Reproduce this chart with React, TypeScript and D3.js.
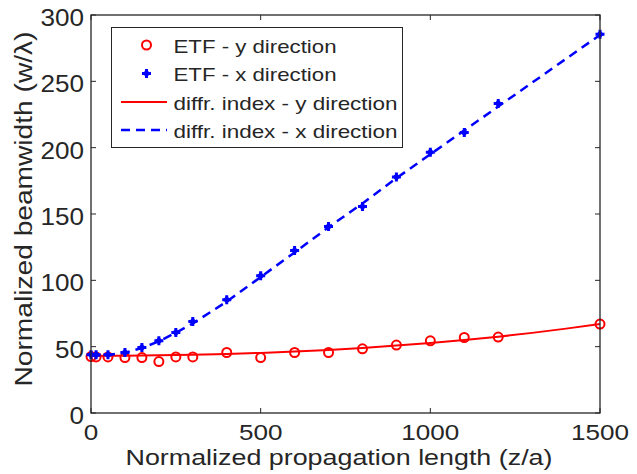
import React, { useEffect, useRef } from 'react';
import * as d3 from 'd3';

// ETF measurements
const etfZ = [0, 15, 50, 100, 150, 200, 250, 300, 400, 500, 600, 700, 800, 900, 1000, 1100, 1200, 1500];
const etfY = [42.5, 42.3, 42.3, 41.8, 41.8, 38.8, 42.3, 42.3, 45.6, 41.8, 45.6, 45.6, 48.4, 51.2, 54.4, 56.9, 57.2, 67.0];
const etfX = [44, 44, 44, 45.6, 49.4, 54.4, 60.7, 69, 85.4, 103.5, 122.4, 140.6, 155.7, 177.9, 196.5, 211.4, 233.3, 285.5];

// diffraction index curves
const diffZ = [0, 50, 100, 150, 200, 250, 300, 400, 500, 600, 700, 800, 900, 1000, 1100, 1200, 1300, 1400, 1500];
const diffY = [43, 43.1, 43.2, 43.3, 43.5, 43.7, 43.9, 44.5, 45.3, 46.3, 47.5, 49, 50.8, 52.8, 55, 57.5, 60.4, 63.6, 67];
const diffX = [43.5, 43.7, 45.5, 49, 54, 60.5, 67.5, 84, 102.5, 121, 140, 158, 177, 195, 213, 231, 249, 267, 285];

const xTicks = [0, 500, 1000, 1500];
const yTicks = [0, 50, 100, 150, 200, 250, 300];

const legendItems = ['ETF - y direction', 'ETF - x direction', 'diffr. index - y direction', 'diffr. index - x direction'];
const legendWidths = [163, 163, 224, 224];

const App = () => {
    const svgRef = useRef(null);

    useEffect(() => {
        const width = 637;
        const height = 474;
        const margin = { top: 15, right: 37, bottom: 61, left: 91 };
        const svg = d3.select(svgRef.current);
        svg.selectAll('*').remove();
        svg.attr('width', width).attr('height', height);

        const x = d3.scaleLinear().domain([0, 1500]).range([margin.left, width - margin.right]);
        const y = d3.scaleLinear().domain([0, 300]).range([height - margin.bottom, margin.top]);
        const font = 'Liberation Sans, Arial, Helvetica, sans-serif';
        const ink = '#262626';
        const digitW = 14.5; // the original's text is a bit wider than Arial

        svg.append('rect').attr('width', width).attr('height', height).attr('fill', 'white');

        // ticks (inside, on all four sides)
        const tickLen = 5;
        const ticks = svg.append('g').attr('stroke', ink).attr('stroke-width', 1);
        xTicks.forEach(t => {
            ticks.append('line').attr('x1', x(t)).attr('x2', x(t)).attr('y1', y(0)).attr('y2', y(0) - tickLen);
            ticks.append('line').attr('x1', x(t)).attr('x2', x(t)).attr('y1', y(300)).attr('y2', y(300) + tickLen);
        });
        yTicks.forEach(t => {
            ticks.append('line').attr('x1', x(0)).attr('x2', x(0) + tickLen).attr('y1', y(t)).attr('y2', y(t));
            ticks.append('line').attr('x1', x(1500)).attr('x2', x(1500) - tickLen).attr('y1', y(t)).attr('y2', y(t));
        });

        svg.append('g').selectAll('text').data(xTicks).enter().append('text')
            .attr('x', d => x(d)).attr('y', y(0) + 27)
            .attr('text-anchor', 'middle')
            .attr('font-family', font).attr('font-size', 22.5).attr('fill', ink)
            .attr('textLength', d => String(d).length * digitW)
            .attr('lengthAdjust', 'spacingAndGlyphs')
            .text(d => d);
        svg.append('g').selectAll('text').data(yTicks).enter().append('text')
            .attr('x', x(0) - 7).attr('y', d => y(d) + 11)
            .attr('text-anchor', 'end')
            .attr('font-family', font).attr('font-size', 23).attr('fill', ink)
            .attr('textLength', d => String(d).length * digitW)
            .attr('lengthAdjust', 'spacingAndGlyphs')
            .text(d => d);

        svg.append('text')
            .attr('x', 339).attr('y', 464.5)
            .attr('text-anchor', 'middle')
            .attr('font-family', font).attr('font-size', 22.5).attr('fill', ink)
            .attr('textLength', 427).attr('lengthAdjust', 'spacingAndGlyphs')
            .text('Normalized propagation length (z/a)');
        svg.append('text')
            .attr('transform', 'translate(32, 209) rotate(-90)')
            .attr('text-anchor', 'middle')
            .attr('font-family', font).attr('font-size', 23.5).attr('fill', ink)
            .attr('textLength', 355).attr('lengthAdjust', 'spacingAndGlyphs')
            .text('Normalized beamwidth (w/λ)');

        const plot = svg.append('g');
        const lineGen = d3.line().x(d => x(d[0])).y(d => y(d[1]));

        plot.append('path')
            .datum(diffZ.map((z, i) => [z, diffY[i]]))
            .attr('d', lineGen)
            .attr('fill', 'none').attr('stroke', '#ff0000').attr('stroke-width', 2);

        plot.selectAll('.etf-y').data(etfZ.map((z, i) => [z, etfY[i]])).enter().append('circle')
            .attr('class', 'etf-y')
            .attr('cx', d => x(d[0])).attr('cy', d => y(d[1])).attr('r', 4.5)
            .attr('fill', 'none').attr('stroke', '#ff0000').attr('stroke-width', 2);

        plot.append('path')
            .datum(diffZ.map((z, i) => [z, diffX[i]]))
            .attr('d', lineGen)
            .attr('fill', 'none').attr('stroke', '#0000ff').attr('stroke-width', 2.5)
            .attr('stroke-dasharray', '9,6');

        const plus = (g, cx, cy) => {
            g.append('path')
                .attr('d', `M${cx - 4.5},${cy}H${cx + 4.5}M${cx},${cy - 4.5}V${cy + 4.5}`)
                .attr('stroke', '#0000ff').attr('stroke-width', 3).attr('fill', 'none');
            g.append('rect')
                .attr('x', cx - 2.8).attr('y', cy - 2.8).attr('width', 5.6).attr('height', 5.6)
                .attr('transform', `rotate(45, ${cx}, ${cy})`)
                .attr('fill', '#0000ff');
        };
        etfZ.forEach((z, i) => plus(plot, x(z), y(etfX[i])));

        // axes box
        svg.append('rect')
            .attr('x', x(0)).attr('y', y(300))
            .attr('width', x(1500) - x(0)).attr('height', y(0) - y(300))
            .attr('fill', 'none').attr('stroke', ink).attr('stroke-width', 1.3);

        // legend
        const lg = svg.append('g');
        lg.append('rect').attr('x', 111.5).attr('y', 27.5).attr('width', 291).attr('height', 120)
            .attr('fill', 'white').attr('stroke', ink).attr('stroke-width', 1);
        const rowY = [45, 73.5, 102, 130];
        legendItems.forEach((label, i) => {
            lg.append('text')
                .attr('x', 173.5).attr('y', rowY[i] + 7.5)
                .attr('font-family', font).attr('font-size', 18.5).attr('fill', ink)
                .attr('textLength', legendWidths[i]).attr('lengthAdjust', 'spacingAndGlyphs')
                .text(label);
        });
        lg.append('circle').attr('cx', 146.5).attr('cy', rowY[0]).attr('r', 4.5)
            .attr('fill', 'none').attr('stroke', '#ff0000').attr('stroke-width', 2);
        plus(lg, 146.5, rowY[1]);
        lg.append('line').attr('x1', 121).attr('x2', 167).attr('y1', rowY[2]).attr('y2', rowY[2])
            .attr('stroke', '#ff0000').attr('stroke-width', 2);
        lg.append('line').attr('x1', 121).attr('x2', 167).attr('y1', rowY[3]).attr('y2', rowY[3])
            .attr('stroke', '#0000ff').attr('stroke-width', 2.5).attr('stroke-dasharray', '9,6');
    }, []);

    return (
        <svg ref={svgRef} style={{ position: 'absolute', left: 0, top: 0, display: 'block' }}></svg>
    );
};

export default App;
